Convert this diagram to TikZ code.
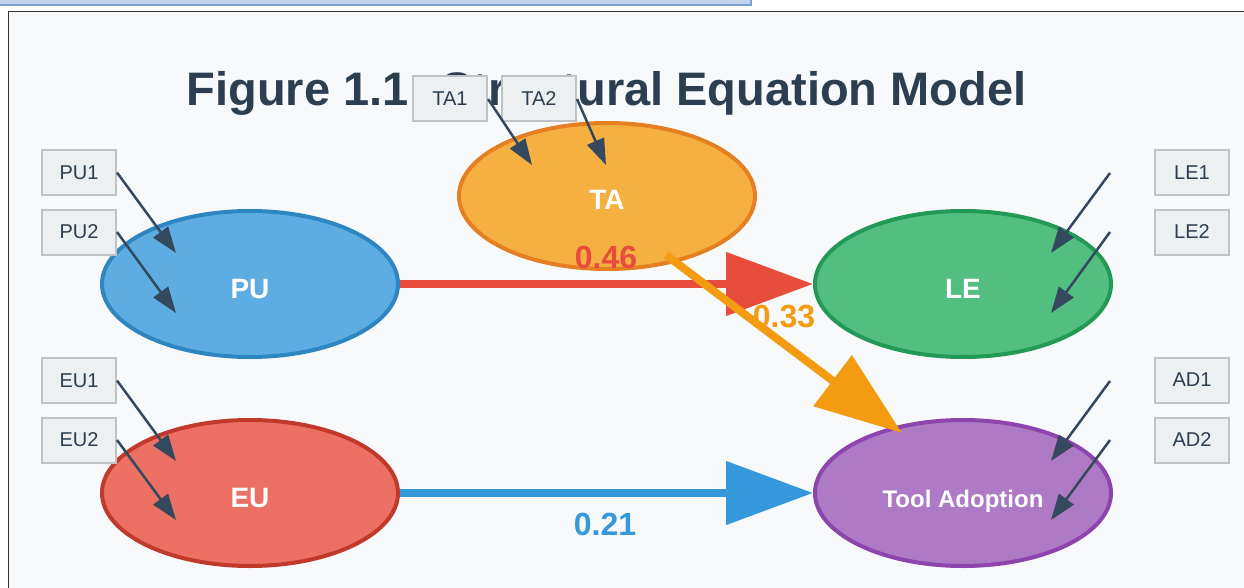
\documentclass[tikz,border=0pt]{standalone}
\usepackage{fontspec}
\setmainfont{Liberation Sans}
\usetikzlibrary{arrows.meta,shapes.geometric}
\definecolor{bgc}{HTML}{F8F9FA}
\definecolor{titlec}{HTML}{2C3E50}
\definecolor{slate}{HTML}{34495E}
\definecolor{boxfill}{HTML}{ECF0F1}
\definecolor{boxline}{HTML}{BDC3C7}
\definecolor{barfill}{HTML}{C3D3EC}
\definecolor{barline}{HTML}{7D9FD0}
\definecolor{pufill}{HTML}{5DADE2}
\definecolor{puline}{HTML}{2E86C1}
\definecolor{tafill}{HTML}{F5B041}
\definecolor{taline}{HTML}{E67E22}
\definecolor{lefill}{HTML}{52BE80}
\definecolor{leline}{HTML}{229954}
\definecolor{eufill}{HTML}{EC7063}
\definecolor{euline}{HTML}{C0392B}
\definecolor{adfill}{HTML}{AF7AC5}
\definecolor{adline}{HTML}{8E44AD}
\definecolor{redc}{HTML}{E74C3C}
\definecolor{bluec}{HTML}{3498DB}
\definecolor{orangec}{HTML}{F39C12}
\begin{document}
\begin{tikzpicture}[x=1pt,y=-1pt,
  latent/.style={ellipse, line width=4pt, minimum width=296pt, minimum height=146pt,
    inner sep=0pt, text=white, font=\fontsize{28}{30}\selectfont\bfseries,
    text height=28pt, text depth=0pt},
  ind/.style={rectangle, draw=boxline, fill=boxfill, line width=2pt,
    minimum width=74pt, minimum height=45pt, inner sep=0pt, text=titlec,
    font=\fontsize{20}{22}\selectfont},
  loadarrow/.style={draw=slate, line width=2.5pt, -{Triangle[length=26pt,width=18pt]}},
  struct/.style={line width=8pt, -{Triangle[length=87pt,width=62pt]}},
  coef/.style={font=\fontsize{32}{36}\selectfont\bfseries, anchor=base}
]
\useasboundingbox (0,0) rectangle (1244,588);
\fill[white] (0,0) rectangle (1244,588);
% top bar and frame
\draw[fill=barfill, draw=barline, line width=2pt] (-5,-10) rectangle (751,5);
\draw[fill=bgc, draw=black!80, line width=1pt] (8.5,11.5) rectangle (1300,650);
% title
\node[anchor=base, text=titlec, font=\fontsize{47}{56}\selectfont\bfseries, inner sep=0pt]
  (title) at (606.5,106) {Figure 1.1: Structural Equation Model};
% latent variables
\node[latent, fill=tafill, draw=taline] (TA) at (607,196) {TA};
\node[latent, fill=pufill, draw=puline] (PU) at (250,284) {PU};
\node[latent, fill=lefill, draw=leline] (LE) at (963,284) {LE};
\node[latent, fill=eufill, draw=euline] (EU) at (250,493) {EU};
\node[latent, fill=adfill, draw=adline, font=\fontsize{24}{26}\selectfont\bfseries] (AD) at (963,493) {Tool Adoption};
% structural paths
\coordinate (taout) at (666,255);
\coordinate (adin) at (902,433);
\draw[struct, draw=redc, fill=redc] (PU.east) -- (LE.west);
\draw[struct, draw=bluec, fill=bluec] (EU.east) -- (AD.west);
\draw[struct, draw=orangec, fill=orangec] (taout) -- (adin);
\node[coef, text=redc] (c46) at (606,268) {0.46};
\node[coef, text=orangec] (c33) at (784,327) {0.33};
\node[coef, text=bluec] (c21) at (605,535) {0.21};
% indicators
\node[ind] (PU1) at (79,172.5) {PU1};
\node[ind] (PU2) at (79,232) {PU2};
\node[ind] (EU1) at (79,380.5) {EU1};
\node[ind] (EU2) at (79,440) {EU2};
\node[ind] (TA1) at (450,99) {TA1};
\node[ind] (TA2) at (539,99) {TA2};
\node[ind] (LE1) at (1192,172.5) {LE1};
\node[ind] (LE2) at (1192,232) {LE2};
\node[ind] (AD1) at (1192,380) {AD1};
\node[ind] (AD2) at (1192,440) {AD2};
% loading arrow ends
\coordinate (pu1e) at (176,253);
\coordinate (pu2e) at (176,313);
\coordinate (eu1e) at (176,461);
\coordinate (eu2e) at (176,520);
\coordinate (ta1e) at (532,165);
\coordinate (ta2e) at (606,165);
\coordinate (le1s) at (1110,173);
\coordinate (le1e) at (1051,253);
\coordinate (le2s) at (1110,232);
\coordinate (le2e) at (1051,313);
\coordinate (ad1s) at (1110,381);
\coordinate (ad1e) at (1051,461);
\coordinate (ad2s) at (1110,440);
\coordinate (ad2e) at (1051,520);
\draw[loadarrow] (PU1.east) -- (pu1e);
\draw[loadarrow] (PU2.east) -- (pu2e);
\draw[loadarrow] (EU1.east) -- (eu1e);
\draw[loadarrow] (EU2.east) -- (eu2e);
\draw[loadarrow] (TA1.east) -- (ta1e);
\draw[loadarrow] (TA2.east) -- (ta2e);
\draw[loadarrow] (le1s) -- (le1e);
\draw[loadarrow] (le2s) -- (le2e);
\draw[loadarrow] (ad1s) -- (ad1e);
\draw[loadarrow] (ad2s) -- (ad2e);
\end{tikzpicture}
\end{document}
